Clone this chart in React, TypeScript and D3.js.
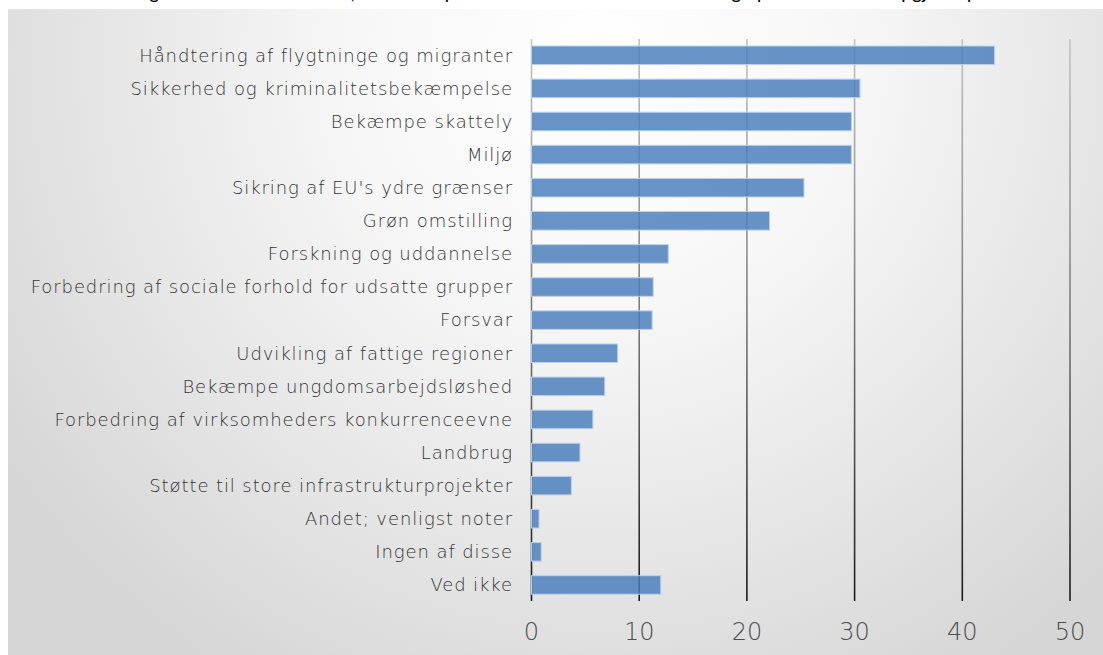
import * as d3 from 'd3';
import React from 'react';

// categories top to bottom, values in percent
const categories = [
  'Håndtering af flygtninge og migranter',
  'Sikkerhed og kriminalitetsbekæmpelse',
  'Bekæmpe skattely',
  'Miljø',
  "Sikring af EU's ydre grænser",
  'Grøn omstilling',
  'Forskning og uddannelse',
  'Forbedring af sociale forhold for udsatte grupper',
  'Forsvar',
  'Udvikling af fattige regioner',
  'Bekæmpe ungdomsarbejdsløshed',
  'Forbedring af virksomheders konkurrenceevne',
  'Landbrug',
  'Støtte til store infrastrukturprojekter',
  'Andet; venligst noter',
  'Ingen af disse',
  'Ved ikke',
];
const values = [43.0, 30.5, 29.7, 29.7, 25.3, 22.1, 12.7, 11.3, 11.2, 8.0, 6.8, 5.7, 4.5, 3.7, 0.7, 0.9, 12.0];
const xTicks = [0, 10, 20, 30, 40, 50];
const title =
  'Hvilke af følgende emner mener du, at EU bør prioritere i de kommende år? Vælg op til tre emner. Opgjort i procent';

const W = 1103;
const H = 655;
const font = '"DejaVu Sans", sans-serif';

const App = () => {
  const x = d3.scaleLinear().domain([0, 50]).range([531.5, 1070]);
  const y = d3
    .scaleBand<string>()
    .domain(categories)
    .range([38.75, 601.5])
    .paddingInner(0.44)
    .paddingOuter(0.22);

  const gridTop = 39;
  const gridBottom = 601;

  return (
    <svg width={W} height={H} style={{ position: 'absolute', left: 0, top: 0 }}>
      <defs>
        <radialGradient id="bg" gradientUnits="userSpaceOnUse" cx="600" cy="60" r="720">
          <stop offset="0" stopColor="#ffffff" />
          <stop offset="0.35" stopColor="#f7f7f7" />
          <stop offset="1" stopColor="#d6d6d6" />
        </radialGradient>
        <linearGradient id="grid" gradientUnits="userSpaceOnUse" x1="0" y1={gridTop} x2="0" y2={gridBottom}>
          <stop offset="0" stopColor="#c4c4c4" />
          <stop offset="0.5" stopColor="#7a7a7a" />
          <stop offset="1" stopColor="#1a1a1a" />
        </linearGradient>
      </defs>
      <rect x={0} y={0} width={W} height={H} fill="#ffffff" />
      <text x={W / 2 - 10} y={-1.5} textAnchor="middle" fontFamily="Carlito, 'Liberation Sans', sans-serif" fontSize={21} fill="#000">
        {title}
      </text>
      <rect x={8} y={9} width={W - 8} height={H - 9} fill="url(#bg)" />

      {/* vertical gridlines */}
      <g>
        {xTicks.map((t) => (
          <line
            key={t}
            x1={x(t)}
            x2={x(t)}
            y1={gridTop}
            y2={gridBottom}
            stroke="url(#grid)"
            strokeWidth={1.6}
          />
        ))}
      </g>

      {/* bars */}
      <g>
        {categories.map((c, i) => (
          <rect
            key={c}
            x={x(0)}
            y={y(c)}
            width={x(values[i]) - x(0)}
            height={y.bandwidth()}
            fill="#4a7ebb"
            fillOpacity={0.84}
            stroke="#bcd0ea"
            strokeWidth={1}
          />
        ))}
      </g>

      {/* category labels */}
      <g fontFamily={font} fontSize={18} fontWeight={300} letterSpacing={0.9} fill="#333333" textAnchor="end">
        {categories.map((c) => (
          <text key={c} x={513} y={(y(c) ?? 0) + y.bandwidth() / 2} dy="0.35em">
            {c}
          </text>
        ))}
      </g>

      {/* x tick labels */}
      <g fontFamily={font} fontSize={24} fill="#4d4d4d" textAnchor="middle" fontWeight={300}>
        {xTicks.map((t) => (
          <text key={t} x={x(t)} y={632} dy="0.35em">
            {t}
          </text>
        ))}
      </g>
    </svg>
  );
};

export default App;
